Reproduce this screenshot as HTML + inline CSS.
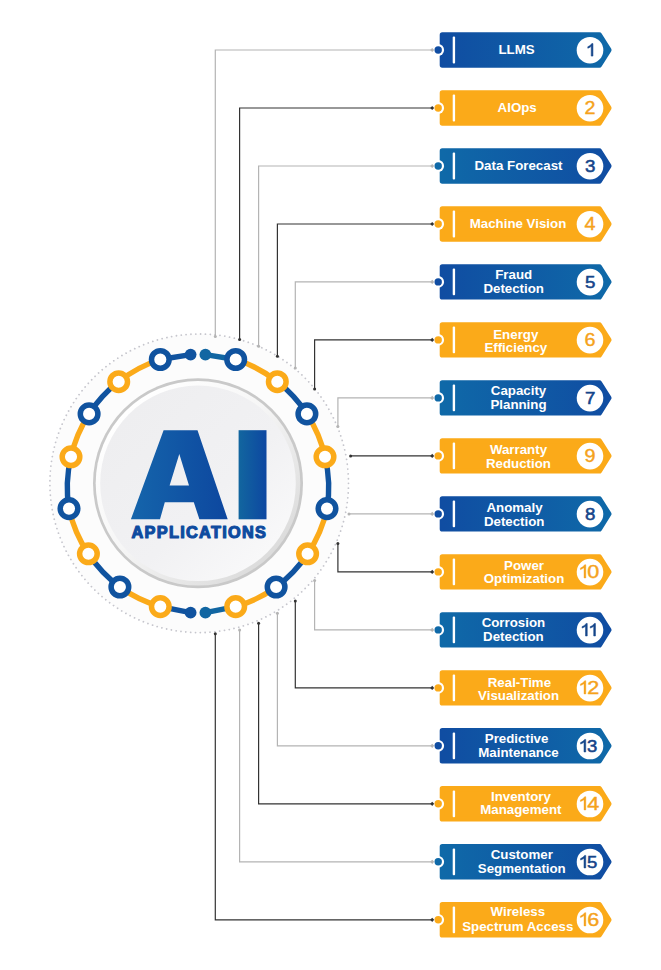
<!DOCTYPE html>
<html><head><meta charset="utf-8"><title>AI Applications</title>
<style>html,body{margin:0;padding:0;background:#fff;}body{width:661px;height:970px;overflow:hidden;font-family:"Liberation Sans",sans-serif;}svg{display:block;}</style>
</head><body>
<svg width="661" height="970" viewBox="0 0 661 970">
<defs>
<linearGradient id="gDL" x1="0" y1="0" x2="1" y2="0"><stop offset="0" stop-color="#104da2"/><stop offset="1" stop-color="#0f69a8"/></linearGradient>
<linearGradient id="gLD" x1="0" y1="0" x2="1" y2="0"><stop offset="0" stop-color="#0f69a8"/><stop offset="1" stop-color="#104da2"/></linearGradient>
<linearGradient id="gA" x1="0" y1="0" x2="1" y2="0"><stop offset="0" stop-color="#1565ab"/><stop offset="1" stop-color="#0d479f"/></linearGradient>
<linearGradient id="gI" x1="0" y1="0" x2="1" y2="0"><stop offset="0" stop-color="#12669f"/><stop offset="1" stop-color="#0d47a1"/></linearGradient>
<linearGradient id="gC" x1="0.15" y1="0.15" x2="0.85" y2="0.85"><stop offset="0" stop-color="#eeeef0"/><stop offset="0.6" stop-color="#f1f1f3"/><stop offset="1" stop-color="#f8f8f9"/></linearGradient>
<linearGradient id="gBev" x1="0.15" y1="0.15" x2="0.85" y2="0.85"><stop offset="0" stop-color="#ffffff"/><stop offset="0.45" stop-color="#f6f6f6"/><stop offset="1" stop-color="#dcdcdc"/></linearGradient>
</defs>
<rect width="661" height="970" fill="#fff"/>
<circle cx="199.2" cy="483.3" r="149.3" fill="#fcfcfc" stroke="#c6c6cd" stroke-width="1.8" stroke-linecap="round" stroke-dasharray="0.01 4.85"/>
<path d="M215.3,336.5 V50.0 H432.2" fill="none" stroke="#b4b4b4" stroke-width="1.2"/>
<circle cx="215.3" cy="336.5" r="1.5" fill="#b4b4b4"/>
<path d="M239.6,339.4 V108.0 H432.2" fill="none" stroke="#333333" stroke-width="1.2"/>
<circle cx="239.6" cy="339.4" r="1.5" fill="#333333"/>
<path d="M258.6,346.2 V166.0 H432.2" fill="none" stroke="#b4b4b4" stroke-width="1.2"/>
<circle cx="258.6" cy="346.2" r="1.5" fill="#b4b4b4"/>
<path d="M277.4,356.3 V224.0 H432.2" fill="none" stroke="#333333" stroke-width="1.2"/>
<circle cx="277.4" cy="356.3" r="1.5" fill="#333333"/>
<path d="M295.3,368.0 V281.9 H432.2" fill="none" stroke="#b4b4b4" stroke-width="1.2"/>
<circle cx="295.3" cy="368.0" r="1.5" fill="#b4b4b4"/>
<path d="M314.6,389.0 V339.9 H432.2" fill="none" stroke="#333333" stroke-width="1.2"/>
<circle cx="314.6" cy="389.0" r="1.5" fill="#333333"/>
<path d="M337.9,426.5 V397.9 H432.2" fill="none" stroke="#b4b4b4" stroke-width="1.2"/>
<circle cx="337.9" cy="426.5" r="1.5" fill="#b4b4b4"/>
<path d="M350.6,455.9 H432.2" fill="none" stroke="#333333" stroke-width="1.2"/>
<circle cx="350.6" cy="455.9" r="1.5" fill="#333333"/>
<path d="M349.0,513.9 H432.2" fill="none" stroke="#b4b4b4" stroke-width="1.2"/>
<circle cx="349.0" cy="513.9" r="1.5" fill="#b4b4b4"/>
<path d="M337.9,543.4 V571.9 H432.2" fill="none" stroke="#333333" stroke-width="1.2"/>
<circle cx="337.9" cy="543.4" r="1.5" fill="#333333"/>
<path d="M314.6,580.5 V629.9 H432.2" fill="none" stroke="#b4b4b4" stroke-width="1.2"/>
<circle cx="314.6" cy="580.5" r="1.5" fill="#b4b4b4"/>
<path d="M295.3,601.0 V687.9 H432.2" fill="none" stroke="#333333" stroke-width="1.2"/>
<circle cx="295.3" cy="601.0" r="1.5" fill="#333333"/>
<path d="M277.4,613.2 V745.8 H432.2" fill="none" stroke="#b4b4b4" stroke-width="1.2"/>
<circle cx="277.4" cy="613.2" r="1.5" fill="#b4b4b4"/>
<path d="M258.6,623.3 V803.8 H432.2" fill="none" stroke="#333333" stroke-width="1.2"/>
<circle cx="258.6" cy="623.3" r="1.5" fill="#333333"/>
<path d="M239.6,630.0 V861.8 H432.2" fill="none" stroke="#b4b4b4" stroke-width="1.2"/>
<circle cx="239.6" cy="630.0" r="1.5" fill="#b4b4b4"/>
<path d="M215.3,633.8 V919.8 H432.2" fill="none" stroke="#333333" stroke-width="1.2"/>
<circle cx="215.3" cy="633.8" r="1.5" fill="#333333"/>
<path d="M190.6,354.6 L160.3,359.5" stroke="#10539f" stroke-width="5.4" fill="none"/>
<path d="M190.6,612.7 L160.3,606.6" stroke="#10539f" stroke-width="5.4" fill="none"/>
<circle cx="190.6" cy="354.6" r="5.9" fill="#10539f"/>
<circle cx="190.6" cy="612.7" r="5.9" fill="#10539f"/>
<path d="M160.3,359.5 A130.0,130.0 0 0 0 118.7,381.7" stroke="#fbaa19" stroke-width="5.4" fill="none"/>
<path d="M118.7,381.7 A130.0,130.0 0 0 0 89.1,413.9" stroke="#10539f" stroke-width="5.4" fill="none"/>
<path d="M89.1,413.9 A130.0,130.0 0 0 0 71.0,456.8" stroke="#fbaa19" stroke-width="5.4" fill="none"/>
<path d="M71.0,456.8 A130.0,130.0 0 0 0 69.0,508.6" stroke="#10539f" stroke-width="5.4" fill="none"/>
<path d="M69.0,508.6 A130.0,130.0 0 0 0 88.4,553.8" stroke="#fbaa19" stroke-width="5.4" fill="none"/>
<path d="M88.4,553.8 A130.0,130.0 0 0 0 119.9,587.0" stroke="#10539f" stroke-width="5.4" fill="none"/>
<path d="M119.9,587.0 A130.0,130.0 0 0 0 160.3,606.6" stroke="#fbaa19" stroke-width="5.4" fill="none"/>
<circle cx="160.3" cy="359.5" r="8.8" fill="#fff" stroke="#10539f" stroke-width="5.5"/>
<circle cx="118.7" cy="381.7" r="8.8" fill="#fff" stroke="#fbaa19" stroke-width="5.5"/>
<circle cx="89.1" cy="413.9" r="8.8" fill="#fff" stroke="#10539f" stroke-width="5.5"/>
<circle cx="71.0" cy="456.8" r="8.8" fill="#fff" stroke="#fbaa19" stroke-width="5.5"/>
<circle cx="69.0" cy="508.6" r="8.8" fill="#fff" stroke="#10539f" stroke-width="5.5"/>
<circle cx="88.4" cy="553.8" r="8.8" fill="#fff" stroke="#fbaa19" stroke-width="5.5"/>
<circle cx="119.9" cy="587.0" r="8.8" fill="#fff" stroke="#10539f" stroke-width="5.5"/>
<circle cx="160.3" cy="606.6" r="8.8" fill="#fff" stroke="#fbaa19" stroke-width="5.5"/>
<path d="M205.4,354.6 L235.7,359.5" stroke="#1166a2" stroke-width="5.4" fill="none"/>
<path d="M205.4,612.7 L235.7,606.6" stroke="#1166a2" stroke-width="5.4" fill="none"/>
<circle cx="205.4" cy="354.6" r="5.9" fill="#1166a2"/>
<circle cx="205.4" cy="612.7" r="5.9" fill="#1166a2"/>
<path d="M235.7,359.5 A130.0,130.0 0 0 1 277.3,381.7" stroke="#fbaa19" stroke-width="5.4" fill="none"/>
<path d="M277.3,381.7 A130.0,130.0 0 0 1 306.9,413.9" stroke="#10539f" stroke-width="5.4" fill="none"/>
<path d="M306.9,413.9 A130.0,130.0 0 0 1 325.0,456.8" stroke="#fbaa19" stroke-width="5.4" fill="none"/>
<path d="M325.0,456.8 A130.0,130.0 0 0 1 327.0,508.6" stroke="#10539f" stroke-width="5.4" fill="none"/>
<path d="M327.0,508.6 A130.0,130.0 0 0 1 307.6,553.8" stroke="#fbaa19" stroke-width="5.4" fill="none"/>
<path d="M307.6,553.8 A130.0,130.0 0 0 1 276.1,587.0" stroke="#10539f" stroke-width="5.4" fill="none"/>
<path d="M276.1,587.0 A130.0,130.0 0 0 1 235.7,606.6" stroke="#fbaa19" stroke-width="5.4" fill="none"/>
<circle cx="235.7" cy="359.5" r="8.8" fill="#fff" stroke="#10539f" stroke-width="5.5"/>
<circle cx="277.3" cy="381.7" r="8.8" fill="#fff" stroke="#fbaa19" stroke-width="5.5"/>
<circle cx="306.9" cy="413.9" r="8.8" fill="#fff" stroke="#10539f" stroke-width="5.5"/>
<circle cx="325.0" cy="456.8" r="8.8" fill="#fff" stroke="#fbaa19" stroke-width="5.5"/>
<circle cx="327.0" cy="508.6" r="8.8" fill="#fff" stroke="#10539f" stroke-width="5.5"/>
<circle cx="307.6" cy="553.8" r="8.8" fill="#fff" stroke="#fbaa19" stroke-width="5.5"/>
<circle cx="276.1" cy="587.0" r="8.8" fill="#fff" stroke="#10539f" stroke-width="5.5"/>
<circle cx="235.7" cy="606.6" r="8.8" fill="#fff" stroke="#fbaa19" stroke-width="5.5"/>
<circle cx="198.0" cy="483.3" r="105" fill="#c9c9c9"/>
<circle cx="198.0" cy="483.3" r="102.3" fill="url(#gBev)"/>
<circle cx="198.0" cy="483.3" r="97.8" fill="url(#gC)"/>
<path fill="url(#gA)" fill-rule="evenodd" d="M130.9,519.3 L163.6,430.2 H197.5 L227.7,519.3 H199.4 L193.8,502.3 H164.8 L160,519.3 Z M169.6,485.4 H189 L179.3,453.9 Z"/>
<rect x="238.6" y="430.2" width="27.9" height="89.1" fill="url(#gI)"/>
<text x="198.7" y="538.3" text-anchor="middle" font-family="Liberation Sans, sans-serif" font-weight="bold" font-size="16.3" fill="#0e4b9f" stroke="#0e4b9f" stroke-width="1.15" stroke-linejoin="round" textLength="134.4" lengthAdjust="spacing">APPLICATIONS</text>
<path d="M442.3,34.9 H599.4 L608.9,50.0 L599.4,65.1 H442.3Z" fill="url(#gDL)" stroke="url(#gDL)" stroke-width="5.2" stroke-linejoin="round"/>
<circle cx="438.2" cy="50.0" r="5.9" fill="#fff"/>
<circle cx="438.2" cy="50.0" r="3.7" fill="#104da2"/>
<rect x="452.7" y="36.6" width="2.4" height="26.8" rx="1" fill="#fff"/>
<circle cx="590" cy="50.2" r="13.3" fill="#fff"/>
<path d="M592.94,56.10 L591.23,56.10 L591.23,46.35 Q590.61,46.88 589.60,47.41 Q588.60,47.94 587.80,48.20 L587.80,46.72 Q589.24,46.12 590.31,45.26 Q591.39,44.40 591.83,43.59 L592.94,43.59 Z" fill="#15458a" stroke="#15458a" stroke-width="0.55" stroke-linejoin="round"/>
<text x="516.6" y="53.8" text-anchor="middle" font-family="Liberation Sans, sans-serif" font-weight="bold" font-size="13.3" fill="#fff">LLMS</text>
<path d="M442.3,92.9 H599.4 L608.9,108.0 L599.4,123.1 H442.3Z" fill="#fbaa19" stroke="#fbaa19" stroke-width="5.2" stroke-linejoin="round"/>
<circle cx="438.2" cy="108.0" r="5.9" fill="#fff"/>
<circle cx="438.2" cy="108.0" r="3.7" fill="#fbaa19"/>
<rect x="452.7" y="94.6" width="2.4" height="26.8" rx="1" fill="#fff"/>
<circle cx="590" cy="108.2" r="13.3" fill="#fff"/>
<text x="590.1" y="114.1" text-anchor="middle" transform="matrix(1.0752000000000002 0 0 1 -44.38 0)" font-family="Liberation Sans, sans-serif" font-size="18.4" fill="#f5a21b" stroke="#f5a21b" stroke-width="0.4">2</text>
<text x="517.2" y="111.7" text-anchor="middle" font-family="Liberation Sans, sans-serif" font-weight="bold" font-size="13.3" fill="#fff">AIOps</text>
<path d="M442.3,150.9 H599.4 L608.9,166.0 L599.4,181.1 H442.3Z" fill="url(#gLD)" stroke="url(#gLD)" stroke-width="5.2" stroke-linejoin="round"/>
<circle cx="438.2" cy="166.0" r="5.9" fill="#fff"/>
<circle cx="438.2" cy="166.0" r="3.7" fill="#0f69a8"/>
<rect x="452.7" y="152.6" width="2.4" height="26.8" rx="1" fill="#fff"/>
<circle cx="590" cy="166.2" r="13.3" fill="#fff"/>
<text x="590.1" y="172.1" text-anchor="middle" transform="matrix(1.0752000000000002 0 0 1 -44.38 0)" font-family="Liberation Sans, sans-serif" font-size="17.4" fill="#15458a" stroke="#15458a" stroke-width="0.55">3</text>
<text x="518.5" y="169.7" text-anchor="middle" font-family="Liberation Sans, sans-serif" font-weight="bold" font-size="13.3" fill="#fff">Data Forecast</text>
<path d="M442.3,208.9 H599.4 L608.9,224.0 L599.4,239.1 H442.3Z" fill="#fbaa19" stroke="#fbaa19" stroke-width="5.2" stroke-linejoin="round"/>
<circle cx="438.2" cy="224.0" r="5.9" fill="#fff"/>
<circle cx="438.2" cy="224.0" r="3.7" fill="#fbaa19"/>
<rect x="452.7" y="210.6" width="2.4" height="26.8" rx="1" fill="#fff"/>
<circle cx="590" cy="224.2" r="13.3" fill="#fff"/>
<text x="590.1" y="230.1" text-anchor="middle" transform="matrix(1.0752000000000002 0 0 1 -44.38 0)" font-family="Liberation Sans, sans-serif" font-size="18.4" fill="#f5a21b" stroke="#f5a21b" stroke-width="0.4">4</text>
<text x="518.0" y="227.7" text-anchor="middle" font-family="Liberation Sans, sans-serif" font-weight="bold" font-size="13.3" fill="#fff">Machine Vision</text>
<path d="M442.3,266.8 H599.4 L608.9,281.9 L599.4,297.0 H442.3Z" fill="url(#gDL)" stroke="url(#gDL)" stroke-width="5.2" stroke-linejoin="round"/>
<circle cx="438.2" cy="281.9" r="5.9" fill="#fff"/>
<circle cx="438.2" cy="281.9" r="3.7" fill="#104da2"/>
<rect x="452.7" y="268.5" width="2.4" height="26.8" rx="1" fill="#fff"/>
<circle cx="590" cy="282.1" r="13.3" fill="#fff"/>
<text x="590.1" y="288.0" text-anchor="middle" transform="matrix(1.0752000000000002 0 0 1 -44.38 0)" font-family="Liberation Sans, sans-serif" font-size="17.4" fill="#15458a" stroke="#15458a" stroke-width="0.55">5</text>
<text x="513.7" y="278.6" text-anchor="middle" font-family="Liberation Sans, sans-serif" font-weight="bold" font-size="13.3" fill="#fff">Fraud</text>
<text x="513.7" y="292.7" text-anchor="middle" font-family="Liberation Sans, sans-serif" font-weight="bold" font-size="13.3" fill="#fff">Detection</text>
<path d="M442.3,324.8 H599.4 L608.9,339.9 L599.4,355.0 H442.3Z" fill="#fbaa19" stroke="#fbaa19" stroke-width="5.2" stroke-linejoin="round"/>
<circle cx="438.2" cy="339.9" r="5.9" fill="#fff"/>
<circle cx="438.2" cy="339.9" r="3.7" fill="#fbaa19"/>
<rect x="452.7" y="326.5" width="2.4" height="26.8" rx="1" fill="#fff"/>
<circle cx="590" cy="340.1" r="13.3" fill="#fff"/>
<text x="590.1" y="346.0" text-anchor="middle" transform="matrix(1.0752000000000002 0 0 1 -44.38 0)" font-family="Liberation Sans, sans-serif" font-size="18.4" fill="#f5a21b" stroke="#f5a21b" stroke-width="0.4">6</text>
<text x="515.8" y="339.0" text-anchor="middle" font-family="Liberation Sans, sans-serif" font-weight="bold" font-size="13.3" fill="#fff">Energy</text>
<text x="515.8" y="351.8" text-anchor="middle" font-family="Liberation Sans, sans-serif" font-weight="bold" font-size="13.3" fill="#fff">Efficiency</text>
<path d="M442.3,382.8 H599.4 L608.9,397.9 L599.4,413.0 H442.3Z" fill="url(#gLD)" stroke="url(#gLD)" stroke-width="5.2" stroke-linejoin="round"/>
<circle cx="438.2" cy="397.9" r="5.9" fill="#fff"/>
<circle cx="438.2" cy="397.9" r="3.7" fill="#0f69a8"/>
<rect x="452.7" y="384.5" width="2.4" height="26.8" rx="1" fill="#fff"/>
<circle cx="590" cy="398.1" r="13.3" fill="#fff"/>
<text x="590.1" y="404.0" text-anchor="middle" transform="matrix(1.0752000000000002 0 0 1 -44.38 0)" font-family="Liberation Sans, sans-serif" font-size="17.4" fill="#15458a" stroke="#15458a" stroke-width="0.55">7</text>
<text x="518.5" y="394.6" text-anchor="middle" font-family="Liberation Sans, sans-serif" font-weight="bold" font-size="13.3" fill="#fff">Capacity</text>
<text x="518.5" y="408.8" text-anchor="middle" font-family="Liberation Sans, sans-serif" font-weight="bold" font-size="13.3" fill="#fff">Planning</text>
<path d="M442.3,440.8 H599.4 L608.9,455.9 L599.4,471.0 H442.3Z" fill="#fbaa19" stroke="#fbaa19" stroke-width="5.2" stroke-linejoin="round"/>
<circle cx="438.2" cy="455.9" r="5.9" fill="#fff"/>
<circle cx="438.2" cy="455.9" r="3.7" fill="#fbaa19"/>
<rect x="452.7" y="442.5" width="2.4" height="26.8" rx="1" fill="#fff"/>
<circle cx="590" cy="456.1" r="13.3" fill="#fff"/>
<text x="590.1" y="462.0" text-anchor="middle" transform="matrix(1.0752000000000002 0 0 1 -44.38 0)" font-family="Liberation Sans, sans-serif" font-size="18.4" fill="#f5a21b" stroke="#f5a21b" stroke-width="0.4">9</text>
<text x="518.5" y="453.6" text-anchor="middle" font-family="Liberation Sans, sans-serif" font-weight="bold" font-size="13.3" fill="#fff">Warranty</text>
<text x="518.5" y="467.9" text-anchor="middle" font-family="Liberation Sans, sans-serif" font-weight="bold" font-size="13.3" fill="#fff">Reduction</text>
<path d="M442.3,498.8 H599.4 L608.9,513.9 L599.4,529.0 H442.3Z" fill="url(#gDL)" stroke="url(#gDL)" stroke-width="5.2" stroke-linejoin="round"/>
<circle cx="438.2" cy="513.9" r="5.9" fill="#fff"/>
<circle cx="438.2" cy="513.9" r="3.7" fill="#104da2"/>
<rect x="452.7" y="500.5" width="2.4" height="26.8" rx="1" fill="#fff"/>
<circle cx="590" cy="514.1" r="13.3" fill="#fff"/>
<text x="590.1" y="520.0" text-anchor="middle" transform="matrix(1.0752000000000002 0 0 1 -44.38 0)" font-family="Liberation Sans, sans-serif" font-size="17.4" fill="#15458a" stroke="#15458a" stroke-width="0.55">8</text>
<text x="514.5" y="511.9" text-anchor="middle" font-family="Liberation Sans, sans-serif" font-weight="bold" font-size="13.3" fill="#fff">Anomaly</text>
<text x="514.2" y="525.9" text-anchor="middle" font-family="Liberation Sans, sans-serif" font-weight="bold" font-size="13.3" fill="#fff">Detection</text>
<path d="M442.3,556.8 H599.4 L608.9,571.9 L599.4,587.0 H442.3Z" fill="#fbaa19" stroke="#fbaa19" stroke-width="5.2" stroke-linejoin="round"/>
<circle cx="438.2" cy="571.9" r="5.9" fill="#fff"/>
<circle cx="438.2" cy="571.9" r="3.7" fill="#fbaa19"/>
<rect x="452.7" y="558.5" width="2.4" height="26.8" rx="1" fill="#fff"/>
<circle cx="590" cy="572.1" r="13.3" fill="#fff"/>
<path d="M585.83,577.98 L584.02,577.98 L584.02,567.68 Q583.37,568.23 582.31,568.79 Q581.25,569.35 580.40,569.63 L580.40,568.06 Q581.92,567.43 583.06,566.52 Q584.19,565.61 584.67,564.76 L585.83,564.76 Z" fill="#f5a21b" stroke="#f5a21b" stroke-width="0.4" stroke-linejoin="round"/><text x="593.2" y="578.0" text-anchor="middle" transform="matrix(1.1760000000000002 0 0 1 -104.40 0)" font-family="Liberation Sans, sans-serif" font-size="18.4" fill="#f5a21b" stroke="#f5a21b" stroke-width="0.4">0</text>
<text x="524.0" y="570.1" text-anchor="middle" font-family="Liberation Sans, sans-serif" font-weight="bold" font-size="13.3" fill="#fff">Power</text>
<text x="524.0" y="583.1" text-anchor="middle" font-family="Liberation Sans, sans-serif" font-weight="bold" font-size="13.3" fill="#fff">Optimization</text>
<path d="M442.3,614.8 H599.4 L608.9,629.9 L599.4,645.0 H442.3Z" fill="url(#gLD)" stroke="url(#gLD)" stroke-width="5.2" stroke-linejoin="round"/>
<circle cx="438.2" cy="629.9" r="5.9" fill="#fff"/>
<circle cx="438.2" cy="629.9" r="3.7" fill="#0f69a8"/>
<rect x="452.7" y="616.5" width="2.4" height="26.8" rx="1" fill="#fff"/>
<circle cx="590" cy="630.1" r="13.3" fill="#fff"/>
<path d="M587.24,635.97 L585.53,635.97 L585.53,626.22 Q584.91,626.75 583.90,627.28 Q582.90,627.81 582.10,628.07 L582.10,626.59 Q583.54,625.99 584.61,625.13 Q585.69,624.27 586.13,623.46 L587.24,623.46 Z" fill="#15458a" stroke="#15458a" stroke-width="0.55" stroke-linejoin="round"/><path d="M595.44,635.97 L593.73,635.97 L593.73,626.22 Q593.11,626.75 592.10,627.28 Q591.10,627.81 590.30,628.07 L590.30,626.59 Q591.74,625.99 592.81,625.13 Q593.89,624.27 594.33,623.46 L595.44,623.46 Z" fill="#15458a" stroke="#15458a" stroke-width="0.55" stroke-linejoin="round"/>
<text x="513.4" y="626.6" text-anchor="middle" font-family="Liberation Sans, sans-serif" font-weight="bold" font-size="13.3" fill="#fff">Corrosion</text>
<text x="513.4" y="641.1" text-anchor="middle" font-family="Liberation Sans, sans-serif" font-weight="bold" font-size="13.3" fill="#fff">Detection</text>
<path d="M442.3,672.8 H599.4 L608.9,687.9 L599.4,703.0 H442.3Z" fill="#fbaa19" stroke="#fbaa19" stroke-width="5.2" stroke-linejoin="round"/>
<circle cx="438.2" cy="687.9" r="5.9" fill="#fff"/>
<circle cx="438.2" cy="687.9" r="3.7" fill="#fbaa19"/>
<rect x="452.7" y="674.5" width="2.4" height="26.8" rx="1" fill="#fff"/>
<circle cx="590" cy="688.1" r="13.3" fill="#fff"/>
<path d="M585.83,693.96 L584.02,693.96 L584.02,683.65 Q583.37,684.21 582.31,684.77 Q581.25,685.32 580.40,685.60 L580.40,684.04 Q581.92,683.40 583.06,682.49 Q584.19,681.59 584.67,680.73 L585.83,680.73 Z" fill="#f5a21b" stroke="#f5a21b" stroke-width="0.4" stroke-linejoin="round"/><text x="593.2" y="694.0" text-anchor="middle" transform="matrix(1.1760000000000002 0 0 1 -104.40 0)" font-family="Liberation Sans, sans-serif" font-size="18.4" fill="#f5a21b" stroke="#f5a21b" stroke-width="0.4">2</text>
<text x="519.4" y="686.6" text-anchor="middle" font-family="Liberation Sans, sans-serif" font-weight="bold" font-size="13.3" fill="#fff">Real-Time</text>
<text x="518.6" y="700.1" text-anchor="middle" font-family="Liberation Sans, sans-serif" font-weight="bold" font-size="13.3" fill="#fff">Visualization</text>
<path d="M442.3,730.7 H599.4 L608.9,745.8 L599.4,760.9 H442.3Z" fill="url(#gDL)" stroke="url(#gDL)" stroke-width="5.2" stroke-linejoin="round"/>
<circle cx="438.2" cy="745.8" r="5.9" fill="#fff"/>
<circle cx="438.2" cy="745.8" r="3.7" fill="#104da2"/>
<rect x="452.7" y="732.4" width="2.4" height="26.8" rx="1" fill="#fff"/>
<circle cx="590" cy="746.0" r="13.3" fill="#fff"/>
<path d="M585.74,751.94 L584.03,751.94 L584.03,742.20 Q583.41,742.73 582.40,743.25 Q581.40,743.78 580.60,744.04 L580.60,742.56 Q582.04,741.96 583.11,741.10 Q584.19,740.24 584.63,739.44 L585.74,739.44 Z" fill="#15458a" stroke="#15458a" stroke-width="0.55" stroke-linejoin="round"/><text x="592.1" y="751.9" text-anchor="middle" transform="matrix(1.064 0 0 1 -37.89 0)" font-family="Liberation Sans, sans-serif" font-size="17.4" fill="#15458a" stroke="#15458a" stroke-width="0.55">3</text>
<text x="516.6" y="743.3" text-anchor="middle" font-family="Liberation Sans, sans-serif" font-weight="bold" font-size="13.3" fill="#fff">Predictive</text>
<text x="518.5" y="756.7" text-anchor="middle" font-family="Liberation Sans, sans-serif" font-weight="bold" font-size="13.3" fill="#fff">Maintenance</text>
<path d="M442.3,788.7 H599.4 L608.9,803.8 L599.4,818.9 H442.3Z" fill="#fbaa19" stroke="#fbaa19" stroke-width="5.2" stroke-linejoin="round"/>
<circle cx="438.2" cy="803.8" r="5.9" fill="#fff"/>
<circle cx="438.2" cy="803.8" r="3.7" fill="#fbaa19"/>
<rect x="452.7" y="790.4" width="2.4" height="26.8" rx="1" fill="#fff"/>
<circle cx="590" cy="804.0" r="13.3" fill="#fff"/>
<path d="M585.83,809.93 L584.02,809.93 L584.02,799.63 Q583.37,800.18 582.31,800.74 Q581.25,801.30 580.40,801.58 L580.40,800.01 Q581.92,799.37 583.06,798.47 Q584.19,797.56 584.67,796.71 L585.83,796.71 Z" fill="#f5a21b" stroke="#f5a21b" stroke-width="0.4" stroke-linejoin="round"/><text x="593.2" y="809.9" text-anchor="middle" transform="matrix(1.1760000000000002 0 0 1 -104.40 0)" font-family="Liberation Sans, sans-serif" font-size="18.4" fill="#f5a21b" stroke="#f5a21b" stroke-width="0.4">4</text>
<text x="520.9" y="801.0" text-anchor="middle" font-family="Liberation Sans, sans-serif" font-weight="bold" font-size="13.3" fill="#fff">Inventory</text>
<text x="520.9" y="814.3" text-anchor="middle" font-family="Liberation Sans, sans-serif" font-weight="bold" font-size="13.3" fill="#fff">Management</text>
<path d="M442.3,846.7 H599.4 L608.9,861.8 L599.4,876.9 H442.3Z" fill="url(#gLD)" stroke="url(#gLD)" stroke-width="5.2" stroke-linejoin="round"/>
<circle cx="438.2" cy="861.8" r="5.9" fill="#fff"/>
<circle cx="438.2" cy="861.8" r="3.7" fill="#0f69a8"/>
<rect x="452.7" y="848.4" width="2.4" height="26.8" rx="1" fill="#fff"/>
<circle cx="590" cy="862.0" r="13.3" fill="#fff"/>
<path d="M585.74,867.92 L584.03,867.92 L584.03,858.17 Q583.41,858.70 582.40,859.23 Q581.40,859.75 580.60,860.02 L580.60,858.54 Q582.04,857.94 583.11,857.08 Q584.19,856.22 584.63,855.41 L585.74,855.41 Z" fill="#15458a" stroke="#15458a" stroke-width="0.55" stroke-linejoin="round"/><text x="592.1" y="867.9" text-anchor="middle" transform="matrix(1.064 0 0 1 -37.89 0)" font-family="Liberation Sans, sans-serif" font-size="17.4" fill="#15458a" stroke="#15458a" stroke-width="0.55">5</text>
<text x="521.8" y="858.5" text-anchor="middle" font-family="Liberation Sans, sans-serif" font-weight="bold" font-size="13.3" fill="#fff">Customer</text>
<text x="521.8" y="872.6" text-anchor="middle" font-family="Liberation Sans, sans-serif" font-weight="bold" font-size="13.3" fill="#fff">Segmentation</text>
<path d="M442.3,904.7 H599.4 L608.9,919.8 L599.4,934.9 H442.3Z" fill="#fbaa19" stroke="#fbaa19" stroke-width="5.2" stroke-linejoin="round"/>
<circle cx="438.2" cy="919.8" r="5.9" fill="#fff"/>
<circle cx="438.2" cy="919.8" r="3.7" fill="#fbaa19"/>
<rect x="452.7" y="906.4" width="2.4" height="26.8" rx="1" fill="#fff"/>
<circle cx="590" cy="920.0" r="13.3" fill="#fff"/>
<path d="M585.83,925.91 L584.02,925.91 L584.02,915.60 Q583.37,916.16 582.31,916.71 Q581.25,917.27 580.40,917.55 L580.40,915.99 Q581.92,915.35 583.06,914.44 Q584.19,913.53 584.67,912.68 L585.83,912.68 Z" fill="#f5a21b" stroke="#f5a21b" stroke-width="0.4" stroke-linejoin="round"/><text x="593.2" y="925.9" text-anchor="middle" transform="matrix(1.1760000000000002 0 0 1 -104.40 0)" font-family="Liberation Sans, sans-serif" font-size="18.4" fill="#f5a21b" stroke="#f5a21b" stroke-width="0.4">6</text>
<text x="517.8" y="916.3" text-anchor="middle" font-family="Liberation Sans, sans-serif" font-weight="bold" font-size="13.3" fill="#fff">Wireless</text>
<text x="517.8" y="930.7" text-anchor="middle" font-family="Liberation Sans, sans-serif" font-weight="bold" font-size="13.3" fill="#fff">Spectrum Access</text>
<path d="M430.2,50.0 l2.0,-2.1 l2.0,2.1 l-2.0,2.1z" fill="#b4b4b4"/>
<path d="M430.2,108.0 l2.0,-2.1 l2.0,2.1 l-2.0,2.1z" fill="#333333"/>
<path d="M430.2,166.0 l2.0,-2.1 l2.0,2.1 l-2.0,2.1z" fill="#b4b4b4"/>
<path d="M430.2,224.0 l2.0,-2.1 l2.0,2.1 l-2.0,2.1z" fill="#333333"/>
<path d="M430.2,281.9 l2.0,-2.1 l2.0,2.1 l-2.0,2.1z" fill="#b4b4b4"/>
<path d="M430.2,339.9 l2.0,-2.1 l2.0,2.1 l-2.0,2.1z" fill="#333333"/>
<path d="M430.2,397.9 l2.0,-2.1 l2.0,2.1 l-2.0,2.1z" fill="#b4b4b4"/>
<path d="M430.2,455.9 l2.0,-2.1 l2.0,2.1 l-2.0,2.1z" fill="#333333"/>
<path d="M430.2,513.9 l2.0,-2.1 l2.0,2.1 l-2.0,2.1z" fill="#b4b4b4"/>
<path d="M430.2,571.9 l2.0,-2.1 l2.0,2.1 l-2.0,2.1z" fill="#333333"/>
<path d="M430.2,629.9 l2.0,-2.1 l2.0,2.1 l-2.0,2.1z" fill="#b4b4b4"/>
<path d="M430.2,687.9 l2.0,-2.1 l2.0,2.1 l-2.0,2.1z" fill="#333333"/>
<path d="M430.2,745.8 l2.0,-2.1 l2.0,2.1 l-2.0,2.1z" fill="#b4b4b4"/>
<path d="M430.2,803.8 l2.0,-2.1 l2.0,2.1 l-2.0,2.1z" fill="#333333"/>
<path d="M430.2,861.8 l2.0,-2.1 l2.0,2.1 l-2.0,2.1z" fill="#b4b4b4"/>
<path d="M430.2,919.8 l2.0,-2.1 l2.0,2.1 l-2.0,2.1z" fill="#333333"/>
</svg>
</body></html>
